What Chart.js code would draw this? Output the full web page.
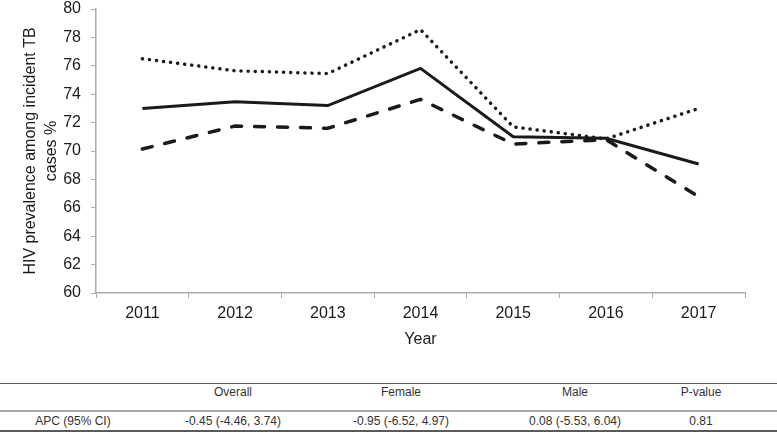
<!DOCTYPE html>
<html>
<head>
<meta charset="utf-8">
<script src="https://cdn.jsdelivr.net/npm/chart.js@4"></script>
<style>
    html, body { margin: 0; padding: 0; background: #fff; }
    body { width: 777px; height: 441px; position: relative; overflow: hidden; font-family: "Liberation Sans", Arial, sans-serif; }
    #chart-wrap { position: absolute; left: 0; top: 0; width: 777px; height: 350px; }
    .rule { position: absolute; left: 0; width: 777px; }
    .cell { position: absolute; width: 160px; margin-left: -80px; text-align: center; font-size: 12px; color: #333; line-height: 14px; }
</style>
</head>
<body>
<div id="chart-wrap"><canvas id="trend-canvas"></canvas></div>

<div class="rule" style="top:383px; height:1px; background:#5a5a5a;"></div>
<div class="rule" style="top:410px; height:2px; background:#a8a8a8;"></div>
<div class="rule" style="top:430px; height:2px; background:#5a5a5a;"></div>
<div id="apc-table"></div>

<script>
const years = ['2011', '2012', '2013', '2014', '2015', '2016', '2017'];
const overall = [73.0, 73.47, 73.2, 75.82, 71.0, 70.9, 69.08];
const female = [76.5, 75.65, 75.45, 78.55, 71.7, 70.85, 73.0];
const male = [70.14, 71.76, 71.6, 73.64, 70.49, 70.8, 66.78];

const tableHeader = ['', 'Overall', 'Female', 'Male', 'P-value'];
const tableRow = ['APC (95% CI)', '-0.45 (-4.46, 3.74)', '-0.95 (-6.52, 4.97)', '0.08 (-5.53, 6.04)', '0.81'];

document.addEventListener('DOMContentLoaded', () => {
    initTable();
    initTrendChart();
});

function initTable() {
    const colX = [73, 233, 401, 575, 701];
    const table = document.getElementById('apc-table');
    const addRow = (cells, top) => {
        cells.forEach((txt, i) => {
            if (!txt) return;
            const div = document.createElement('div');
            div.className = 'cell';
            div.style.left = colX[i] + 'px';
            div.style.top = top + 'px';
            div.textContent = txt;
            table.appendChild(div);
        });
    };
    addRow(tableHeader, 385);
    addRow(tableRow, 414);
}

function initTrendChart() {
    const canvas = document.getElementById('trend-canvas');
    const axisGrey = '#ababab';
    const ink = '#1a1a1a';
    const font16 = { family: '"Liberation Sans", Arial, sans-serif', size: 16, lineHeight: 1.25 };

    new Chart(canvas, {
        type: 'line',
        data: {
            labels: years,
            datasets: [
                {
                    label: 'Overall',
                    data: overall,
                    borderColor: ink,
                    borderWidth: 3,
                    borderJoinStyle: 'miter',
                    pointRadius: 0,
                    tension: 0
                },
                {
                    label: 'Female',
                    data: female,
                    borderColor: ink,
                    borderWidth: 3.5,
                    borderDash: [0.1, 7],
                    borderCapStyle: 'round',
                    pointRadius: 0,
                    tension: 0
                },
                {
                    label: 'Male',
                    data: male,
                    borderColor: ink,
                    borderWidth: 3.5,
                    borderDash: [10, 13],
                    borderCapStyle: 'round',
                    pointRadius: 0,
                    tension: 0
                }
            ]
        },
        options: {
            responsive: true,
            maintainAspectRatio: false,
            animation: false,
            layout: { padding: { top: 9, right: 32, bottom: 0, left: 0 } },
            plugins: {
                legend: { display: false },
                tooltip: { enabled: false }
            },
            scales: {
                x: {
                    offset: true,
                    grid: {
                        offset: true,
                        drawOnChartArea: false,
                        color: axisGrey,
                        tickLength: 5
                    },
                    border: { color: axisGrey, width: 1.5 },
                    ticks: { color: ink, font: font16, padding: 6, maxRotation: 0 },
                    title: {
                        display: true,
                        text: 'Year',
                        color: ink,
                        font: font16,
                        padding: { top: 0, bottom: 0 }
                    },
                    afterFit: (scale) => { scale.height = 57; }
                },
                y: {
                    min: 60,
                    max: 80,
                    ticks: { stepSize: 2, color: ink, font: font16, padding: 10 },
                    grid: {
                        drawOnChartArea: false,
                        color: axisGrey,
                        tickLength: 5
                    },
                    border: { color: axisGrey, width: 1.5 },
                    title: {
                        display: true,
                        text: ['HIV prevalence among incident TB', 'cases %'],
                        color: ink,
                        font: { family: '"Liberation Sans", Arial, sans-serif', size: 16, lineHeight: 1.3 },
                        padding: { top: 20, bottom: 0 }
                    },
                    afterFit: (scale) => {
                        scale.width = 96;
                        scale.paddingTop = 0;
                        scale.paddingBottom = 0;
                    }
                }
            }
        }
    });
}
</script>
</body>
</html>
